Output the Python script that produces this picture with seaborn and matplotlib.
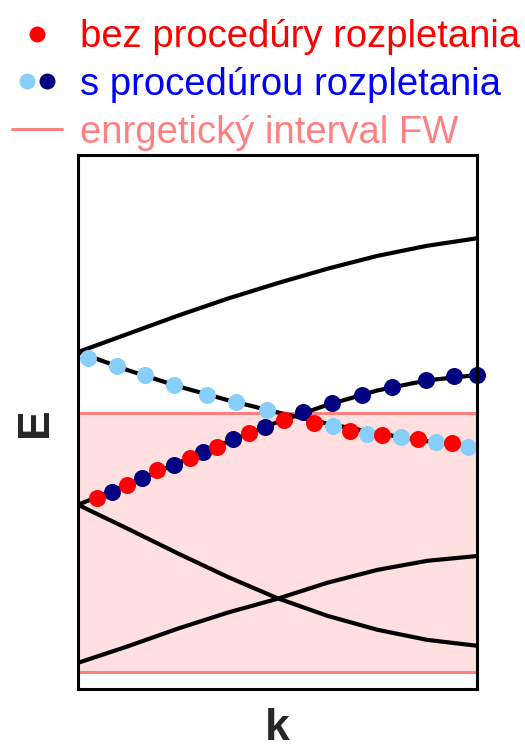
import matplotlib
matplotlib.use("Agg")
import numpy as np
import pandas as pd
import seaborn as sns
import matplotlib.pyplot as plt
from matplotlib.lines import Line2D
from matplotlib.legend_handler import HandlerTuple

# Band structure E(k) sampled on a common k grid (arbitrary units)
k_grid = [0.0, 0.125, 0.25, 0.375, 0.5, 0.625, 0.75, 0.875, 1.0]
band_top = [63.1, 66.5, 69.9, 73.1, 76.0, 78.7, 81.1, 83.0, 84.4]
band_mid_down = [63.1, 59.7, 56.7, 54.1, 51.8, 49.7, 47.9, 46.4, 45.2]
band_mid_up = [34.5, 38.3, 42.3, 46.3, 50.0, 53.2, 55.9, 57.8, 58.8]
band_low_down = [34.5, 30.0, 25.4, 21.0, 17.0, 13.7, 11.1, 9.2, 8.1]
band_low_up = [4.9, 8.0, 11.3, 14.3, 16.9, 19.9, 22.3, 24.0, 24.9]

# Energy window FW
fw_low, fw_high = 3.2, 51.7

# States without the disentangling procedure (lowest band inside the window)
k_red = [0.047, 0.122, 0.197, 0.281, 0.348, 0.429, 0.516, 0.591, 0.682, 0.763, 0.853, 0.937]
E_red = [35.7, 38.2, 41.0, 43.2, 45.4, 47.9, 50.4, 49.9, 48.3, 47.6, 46.8, 46.0]

# States with the disentangling procedure (two smooth bands)
k_light = [0.024, 0.097, 0.168, 0.241, 0.323, 0.396, 0.474, 0.640, 0.724, 0.810, 0.897, 0.978]
E_light = [61.9, 60.4, 58.8, 56.9, 55.1, 53.8, 52.2, 49.3, 47.8, 47.2, 46.3, 45.3]
k_dark = [0.084, 0.160, 0.241, 0.314, 0.389, 0.469, 0.565, 0.636, 0.711, 0.788, 0.872, 0.943, 1.0]
E_dark = [36.9, 39.6, 41.9, 44.3, 46.8, 49.1, 51.9, 53.6, 55.1, 56.6, 57.9, 58.6, 58.8]

labels = ["bez procedúry rozpletania", "s procedúrou rozpletania", "enrgetický interval FW"]
label_colors = ["#ff0000", "#0000ff", "#ff8080"]

RED = "#ff0000"
LIGHT = "#87cefa"
DARK = "#000080"
FW_LINE = "#ff8080"
FW_FILL = "#ffdfdf"

sns.set_theme(style="white")
plt.rcParams["font.family"] = ["Liberation Sans", "DejaVu Sans"]

fig = plt.figure(figsize=(5.25, 7.49), dpi=100)
ax = fig.add_axes([78 / 525, 60 / 749, 399 / 525, 534 / 749])

# energy window
ax.axhspan(fw_low, fw_high, color=FW_FILL, lw=0, zorder=0)
ax.axhline(fw_low, color=FW_LINE, lw=2.2, zorder=1)
ax.axhline(fw_high, color=FW_LINE, lw=2.2, zorder=1)

bands = pd.DataFrame({
    "k": k_grid * 5,
    "E": band_top + band_mid_down + band_mid_up + band_low_down + band_low_up,
    "band": np.repeat(np.arange(5), len(k_grid)),
})
sns.lineplot(data=bands, x="k", y="E", units="band", estimator=None,
             color="black", lw=3, ax=ax, zorder=2, legend=False)

sns.scatterplot(x=k_light, y=E_light, color=LIGHT, s=150, linewidth=0,
                ax=ax, zorder=3, clip_on=False)
sns.scatterplot(x=k_dark, y=E_dark, color=DARK, s=150, linewidth=0,
                ax=ax, zorder=3, clip_on=False)
sns.scatterplot(x=k_red, y=E_red, color=RED, s=150, linewidth=0,
                ax=ax, zorder=4, clip_on=False)

ax.set_xlim(0, 1)
ax.set_ylim(0, 100)
ax.set_xticks([])
ax.set_yticks([])
for sp in ax.spines.values():
    sp.set_color("black")
    sp.set_linewidth(2.2)
    sp.set_zorder(5)

ax.set_xlabel("k", fontsize=32, fontweight="bold", labelpad=14)
ax.set_ylabel("E", fontsize=32, fontweight="bold", labelpad=16)

h_red = Line2D([], [], ls="", marker="o", ms=11.5, mfc=RED, mec="none")
h_light = Line2D([], [], ls="", marker="o", ms=11.5, mfc=LIGHT, mec="none")
h_dark = Line2D([], [], ls="", marker="o", ms=11.5, mfc=DARK, mec="none")
h_fw = Line2D([], [], color=FW_LINE, lw=2.2)

fig.legend([h_red, (h_light, h_dark), h_fw], labels,
           handler_map={tuple: HandlerTuple(ndivide=None, pad=-0.26)},
           loc="upper left", bbox_to_anchor=(12 / 525, 1 - 19 / 749),
           frameon=False, fontsize=27.5, labelcolor=label_colors,
           handlelength=1.31, handletextpad=0.47, labelspacing=0.31,
           borderpad=0, borderaxespad=0)

fig.savefig("out.png", dpi=100)
